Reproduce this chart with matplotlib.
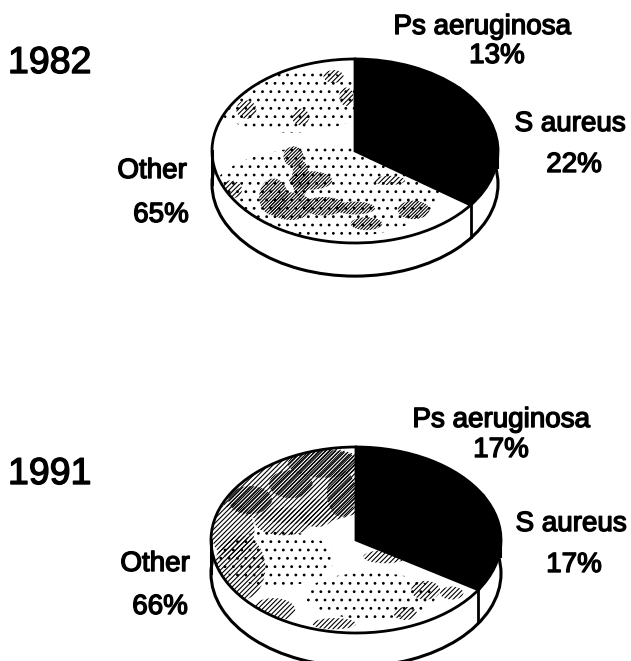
import math
import matplotlib
matplotlib.use('Agg')
import matplotlib.pyplot as plt
import matplotlib.patheffects as pe
from matplotlib.patches import Ellipse

plt.rcParams['font.family'] = ['Liberation Sans', 'DejaVu Sans']
plt.rcParams['hatch.linewidth'] = 0.8

W, H = 631, 661

years = ['1982', '1991']
organisms = ['Ps aeruginosa', 'S aureus', 'Other']
values_1982 = [13, 22, 65]
values_1991 = [17, 17, 66]
slice_colors = ['black', 'black', 'white']

fig = plt.figure(figsize=(W / 100, H / 100), dpi=100)
fat = [pe.withStroke(linewidth=1.0, foreground='black')]


def label(x, y, s, size=20, ha='center'):
    fig.text(x / W, 1 - y / H, s, fontsize=size, ha=ha, va='center',
             color='black', path_effects=fat)


def pie3d(cx, cy, rx, ry, values, blobs):
    ax = fig.add_axes([(cx - rx) / W, 1 - (cy + ry) / H, 2 * rx / W, 2 * ry / H])
    depth = 0.36

    # side wall is the same pie again, pushed down
    ax.pie([sum(values)], colors=['white'], center=(0, -depth), startangle=90,
           wedgeprops={'edgecolor': 'black', 'linewidth': 2.2, 'clip_on': False})
    ax.plot([-1, -1], [0, -depth], color='black', lw=2.2, clip_on=False)
    ax.plot([1, 1], [0, -depth * 0.5], color='black', lw=1.5, clip_on=False)

    wedges, _ = ax.pie(values, colors=slice_colors, startangle=90, counterclock=False,
                       wedgeprops={'edgecolor': 'black', 'linewidth': 2.0, 'clip_on': False})
    other = wedges[2]
    t = math.radians(other.theta2)
    bx, by = math.cos(t), math.sin(t)
    ax.plot([bx, bx], [by, by - depth * 0.95], color='black', lw=2.0, clip_on=False)

    # scanned stipple, only in the Other slice
    for (u, v, w, h, hatch) in blobs:
        e = Ellipse((u, v), w, h, facecolor='none', edgecolor='black',
                    hatch=hatch, linewidth=0, zorder=3)
        ax.add_patch(e)
        e.set_clip_path(other)

    ax.set_aspect('auto')
    ax.set_xlim(-1, 1)
    ax.set_ylim(-1, 1)
    ax.axis('off')


dense = '//////////'
medium = '///////'
blobs_1982 = [
    (-0.45, 0.55, 1.1, 0.7, '..'),
    (-0.2, -0.45, 1.6, 1.0, '..'),
    (-0.57, -0.5, 0.2, 0.4, dense),
    (-0.43, -0.06, 0.14, 0.22, dense),
    (-0.45, -0.6, 0.3, 0.3, dense),
    (-0.38, -0.3, 0.12, 0.4, dense),
    (-0.22, -0.6, 0.3, 0.2, dense),
    (0.08, -0.79, 0.22, 0.14, dense),
    (0.41, -0.64, 0.22, 0.2, dense),
    (0.0, -0.62, 0.28, 0.14, dense),
    (0.24, -0.32, 0.22, 0.1, medium),
    (-0.31, -0.32, 0.3, 0.2, dense),
    (-0.76, 0.45, 0.14, 0.2, medium),
    (-0.15, 0.81, 0.14, 0.14, medium),
    (-0.06, 0.59, 0.1, 0.2, medium),
    (-0.38, 0.37, 0.12, 0.18, medium),
    (-0.87, -0.42, 0.16, 0.2, medium),
]
blobs_1991 = [
    (-0.4, 0.6, 1.2, 0.85, medium),
    (-0.22, 0.82, 0.5, 0.3, dense),
    (-0.73, 0.43, 0.3, 0.3, dense),
    (-0.45, 0.6, 0.3, 0.3, dense),
    (-0.1, 0.5, 0.2, 0.5, dense),
    (-0.85, 0.1, 0.3, 0.6, medium),
    (-0.5, 0.2, 0.4, 0.3, medium),
    (-0.27, 0.29, 0.25, 0.3, medium),
    (-0.8, -0.3, 0.35, 0.7, medium),
    (-0.57, -0.75, 0.3, 0.25, medium),
    (-0.15, -0.9, 0.3, 0.12, medium),
    (0.2, -0.18, 0.3, 0.14, medium),
    (0.48, -0.54, 0.2, 0.2, medium),
    (0.34, -0.79, 0.16, 0.14, medium),
    (0.66, -0.57, 0.16, 0.14, medium),
    (0.1, -0.6, 0.9, 0.5, '..'),
    (-0.55, -0.2, 0.8, 0.6, '..'),
]

pie3d(355, 151, 143, 92, values_1982, blobs_1982)
pie3d(356, 540, 145, 93, values_1991, blobs_1991)

label(8, 63, years[0], size=27, ha='left')
label(482, 27, organisms[0])
label(497, 56, f'{values_1982[0]}%')
label(570, 124, organisms[1])
label(574, 165, f'{values_1982[1]}%')
label(152, 171, organisms[2])
label(161, 215, f'{values_1982[2]}%')

label(8, 474, years[1], size=27, ha='left')
label(501, 420, organisms[0])
label(501, 450, f'{values_1991[0]}%')
label(571, 524, organisms[1])
label(574, 565, f'{values_1991[1]}%')
label(155, 564, organisms[2])
label(160, 607, f'{values_1991[2]}%')

fig.savefig('out.png', dpi=100, facecolor='white')
